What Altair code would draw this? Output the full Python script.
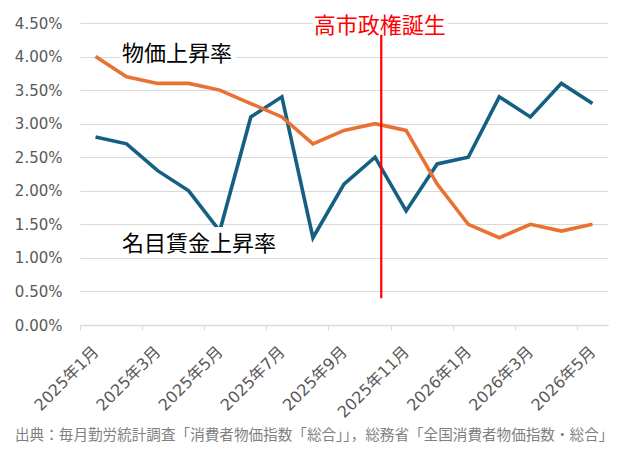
import altair as alt
import pandas as pd

# ---- data (values in %) ----
months = ["2025年1月", "2025年2月", "2025年3月", "2025年4月", "2025年5月", "2025年6月",
          "2025年7月", "2025年8月", "2025年9月", "2025年10月", "2025年11月", "2025年12月",
          "2026年1月", "2026年2月", "2026年3月", "2026年4月", "2026年5月"]
wage = [2.8, 2.7, 2.3, 2.0, 1.4, 3.1, 3.4, 1.3, 2.1, 2.5, 1.7, 2.4, 2.5, 3.4, 3.1, 3.6, 3.3]
price = [4.0, 3.7, 3.6, 3.6, 3.5, 3.3, 3.1, 2.7, 2.9, 3.0, 2.9, 2.1, 1.5, 1.3, 1.5, 1.4, 1.5]

# event: 高市政権誕生 (2025-10-21, as month index), vertical line range in %
event_x = 9.2
event_y = [0.4, 4.33]

# annotation labels: text, left x (month index), y (%), colour, white box [x0, x1, y0, y1]
ann_text = ["物価上昇率", "名目賃金上昇率", "高市政権誕生"]
ann_x = [0.85, 0.85, 7.03]
ann_y = [4.04, 1.21, 4.45]
ann_color = ["#000000", "#000000", "#ff0000"]
ann_box = [[0.8, 4.5, 3.86, 4.2], [0.8, 6.0, 1.04, 1.46], [7.0, 11.35, 4.33, 4.62]]

source = "出典：毎月勤労統計調査「消費者物価指数「総合」」，総務省「全国消費者物価指数・総合」"

# ---- tables ----
df = pd.DataFrame({"x": list(range(len(months))),
                   "wage": [v / 100 for v in wage],
                   "price": [v / 100 for v in price]})
df_event = pd.DataFrame({"x": [event_x], "y": [event_y[0] / 100], "y2": [event_y[1] / 100]})
df_ann = pd.DataFrame({"text": ann_text, "x": ann_x, "y": [v / 100 for v in ann_y],
                       "color": ann_color})
df_box = pd.DataFrame({"x": [b[0] for b in ann_box], "x2": [b[1] for b in ann_box],
                       "y": [b[2] / 100 for b in ann_box], "y2": [b[3] / 100 for b in ann_box]})

W, H = 528, 302
n = len(months)
step = W / n

label_font = "DejaVu Sans, Noto Sans CJK JP"
tick_vals = [i - 0.5 for i in range(0, n, 2)]
label_expr = "[" + ",".join("'%s'" % m for m in months) + "][round(datum.value + 0.5)]"

xscale = alt.Scale(domain=[-0.5, n - 0.5], nice=False, zero=False)
yscale = alt.Scale(domain=[0, 0.045], nice=False)

xaxis = alt.Axis(values=tick_vals, labelExpr=label_expr, labelOffset=step / 2,
                 labelAngle=-45, labelAlign="right", labelBaseline="middle",
                 labelPadding=19, tickSize=5, tickColor="#d9d9d9", tickWidth=1,
                 domainColor="#d9d9d9", domainWidth=1.3, grid=False, title=None,
                 labelOverlap=False, labelFlush=False, labelBound=False,
                 labelFont=label_font, labelFontSize=16, labelColor="#595959")
yaxis = alt.Axis(values=[i * 0.005 for i in range(10)], format=".2%", grid=True,
                 gridColor="#d9d9d9", gridWidth=1.2, domain=False, ticks=False,
                 labelPadding=18, labelFont=label_font, labelFontSize=15,
                 labelColor="#595959", title=None)


def X(f):
    return alt.X(f, type="quantitative", scale=xscale, axis=xaxis)


def Y(f):
    return alt.Y(f, type="quantitative", scale=yscale, axis=yaxis)


base = alt.Chart(df)
wage_line = base.mark_line(color="#156082", strokeWidth=3.6).encode(x=X("x"), y=Y("wage"))
price_line = base.mark_line(color="#E97132", strokeWidth=3.6).encode(x=X("x"), y=Y("price"))

event_rule = alt.Chart(df_event).mark_rule(color="#ff0000", strokeWidth=2.2).encode(
    x=X("x"), y=Y("y"), y2="y2")

boxes = alt.Chart(df_box).mark_rect(color="white", clip=False).encode(
    x=X("x"), x2="x2", y=Y("y"), y2="y2")

labels = alt.Chart(df_ann).mark_text(
    align="left", baseline="middle", font="Noto Sans CJK JP", fontSize=22
).encode(x=X("x"), y=Y("y"), text="text:N",
         color=alt.Color("color:N", scale=None, legend=None))

caption = alt.Chart(pd.DataFrame({"t": [source]})).mark_text(
    align="left", baseline="alphabetic", font="Noto Sans CJK JP", fontSize=14.6,
    color="#7f7f7f"
).encode(text="t:N", x=alt.value(-65), y=alt.value(H + 115))

chart = alt.layer(wage_line, price_line, event_rule, boxes, labels, caption).properties(
    width=W, height=H,
    padding={"left": 72, "top": 15, "right": 21, "bottom": 118},
    autosize=alt.AutoSizeParams(type="none"),
    background="white",
).configure_view(stroke=None)

chart.save("out.html", embed_options={"renderer": "svg", "actions": False})
